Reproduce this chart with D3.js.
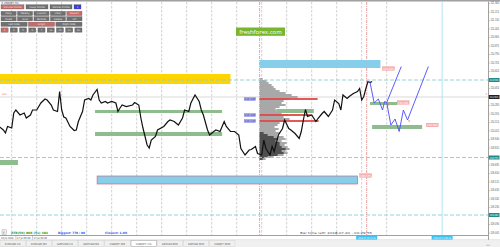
<!DOCTYPE html>
<html>
<head>
<meta charset="utf-8">
<script src="https://cdn.jsdelivr.net/npm/d3@7"></script>
<style>
body{margin:0;background:#fff;overflow:hidden}
svg{display:block;font-family:"DejaVu Sans",sans-serif}
</style>
</head>
<body>
<svg></svg>
<script>
// hours counted from 2018.07.16 23:00
var closeHours = [-3,-2,-1.5,-1,0,0.5,1,2,3,3.5,4.5,5,6,7,8,8.5,9.5,10,11,11.5,12,12.5,13,14,15,15.5,16,17,17.5,18.5,19,19.5,20.5,21,21.5,22.5,23,24,25,25.5,26,26.5,27.5,29,29.5,30.5,31,31.5,32.5,33,33.5,34.5,35,36.5,37.5,38,39,40,41,41.5,42.5,43,44,45,45.5,46,47,47.5,48.5,49,50,51,51.5,52.5,53.5,54.5,55,56,57,57.5,58.5,59,60,60.5,61,62,62.5,63,64,65,65.5,66.5,67,68,69,69.5,70,70.5,71,72,73,73.5,74.5,75,76,77,77.5,78.5,79,79.5,80.5,81,82,83,83.5,84,84.5,85,85.5,86,86.5];
var closePrices = [110.065,110.03,110.00,110.065,110.05,110.20,110.23,110.18,110.20,110.15,110.18,110.23,110.23,110.30,110.34,110.33,110.28,110.23,110.215,110.415,110.23,110.16,110.15,110.065,110.025,110.03,110.115,110.215,110.33,110.345,110.33,110.38,110.435,110.33,110.30,110.315,110.30,110.315,110.30,110.215,110.25,110.28,110.265,110.28,110.305,110.28,110.15,110.05,109.88,109.85,109.93,109.965,110.03,110.065,110.115,110.13,110.115,110.08,110.15,110.23,110.215,110.30,110.38,110.315,110.23,110.18,110.03,109.98,110.015,110.03,110.015,110.115,110.065,110.015,110.015,109.98,109.845,109.78,109.83,109.835,109.865,109.795,109.78,109.93,109.845,109.78,109.865,109.815,109.98,110.045,110.13,110.045,110.03,109.995,109.945,110.015,110.13,110.235,110.165,110.18,110.115,110.145,110.195,110.215,110.165,110.23,110.33,110.295,110.23,110.38,110.345,110.365,110.395,110.415,110.445,110.33,110.365,110.445,110.515,110.505,110.515];

// forecast paths
var projAHours = [85.5,86,87,88,89,89.5,90,93.5];
var projAPrices = [110.515,110.505,110.30,110.34,110.23,110.315,110.305,110.665];
var projBHours = [90,91,92,93,94,95,100];
var projBPrices = [110.305,110.08,110.14,110.015,110.23,110.13,110.665];

// zones: [from hour, to hour, top price, bottom price]
var yellowZones = [[-3,52.5,110.59,110.49]];
var blueZones = [[59.5,88.5,110.73,110.65],[20.5,83,109.57,109.49]];
var greenZones = [[20,50.5,110.23,110.20],[20,50.5,110.01,109.97],[-3,1.5,109.73,109.68],[63.5,72.5,110.24,110.20],[86,92.5,110.31,110.28],[86.5,98.5,110.08,110.04]];

var levelPrices = [110.53,109.755,109.18];
var bidPrice = 110.36;
var redTags = [[89,110.645],[92.5,110.305],[99.5,110.08],[83.5,109.575]];

// volume profile, from 110.54 down in 0.02 steps
var profileStartHour = 59.5;
var profileTop = 110.54, profileStep = 0.02;
var profileVolume = [3,7,9,12,14,16,20,26,32,38,30,24,22,26,20,16,17,22,28,24,30,27,20,18,15,19,16,20,18,24,26,22,27,25,28,30,26,28,24,14,6];
var profileRecent = [0,0,0,0,0,0,0,0,0,0,0,0,0,0,0,0,0,0,0,0,0,0,0,0,0,0,0,4,8,14,18,16,20,20,22,26,22,24,18,8,3];
var profileLevels = [[110.34,58],[110.18,51],[110.12,59]];

var priceTicks = [111.300,111.215,111.130,111.045,110.960,110.875,110.790,110.705,110.620,110.450,110.280,110.195,110.110,110.025,109.940,109.855,109.685,109.600,109.515,109.430,109.345,109.260,109.090,109.005];
var gridHours = [0,6,12,18,24,30,36,42,48,54,60,66,72,78,84,90];
var markHours = [85.2,103.3];

var panelRows = [
  [["Volume Profile","on"],["Vwap Profile","off"],["Market Profile","off"],["1","blue"]],
  [["Daily","off"],["Weekly","off"],["Custom","off"],["Clear","off"],["Session","on"]],
  [["Fixed","off"],["Auto","off"],["Periods","off"],["Delete","off"],["Off","off"]],
  [["Left Side","off"],["Origin","on"],["Right Side","off"]],
  [["1","on"],["4","off"],["5","off"],["6","off"],["7","off"],["10","off"],["15","off"],["20","off"],["30","off"]]
];
var tabNames = ["EURUSD,H1","EURUSD,M1","GBPUSD,H1","GBPUSD,M1","USDJPY,M1","USDJPY,H1","GBPUSD,M30","GBPUSD,M30","USDJPY,M30"];
var activeTab = 5;

var width = 500, height = 247;
var plotRight = 488, plotTop = 2, plotBottom = 235;

var origin = new Date(2018, 6, 16, 23, 0);
function t(h){ return new Date(origin.getTime() + h * 3600e3); }

var x = d3.scaleTime().domain([t(0), t(6)]).range([11.7, 36.7]);
var y = d3.scaleLinear().domain([bidPrice, bidPrice + 1]).range([97, -3]);
var vx = d3.scaleLinear().domain([0, 40]).range([0, 40]);

var svg = d3.select("svg").attr("width", width).attr("height", height);

svg.append("defs").append("clipPath").attr("id","plot")
  .append("rect").attr("x",0).attr("y",plotTop).attr("width",plotRight).attr("height",plotBottom-plotTop);

svg.append("rect").attr("width",width).attr("height",height).attr("fill","#fff");
svg.append("line").attr("x1",0).attr("x2",width).attr("y1",0.8).attr("y2",0.8)
  .attr("stroke","#a0a0a0").attr("stroke-width",1.6);

var plot = svg.append("g").attr("clip-path","url(#plot)");

// grid
plot.selectAll(".grid").data(gridHours).enter().append("line")
  .attr("x1", d => x(t(d))).attr("x2", d => x(t(d)))
  .attr("y1", plotTop).attr("y2", plotBottom)
  .attr("stroke","#c4c4c4").attr("stroke-width",0.8).attr("stroke-dasharray","2.5,1.5");

// bid line
plot.append("line").attr("x1",0).attr("x2",plotRight).attr("y1",y(bidPrice)).attr("y2",y(bidPrice))
  .attr("stroke","#cfcfcf").attr("stroke-width",0.8);

// vertical markers
plot.append("line").attr("x1",x(t(profileStartHour))).attr("x2",x(t(profileStartHour)))
  .attr("y1",plotTop).attr("y2",plotBottom).attr("stroke","#e08a8a").attr("stroke-width",0.8)
  .attr("stroke-dasharray","3,1,1,1");
plot.append("line").attr("x1",x(t(markHours[0]))).attr("x2",x(t(markHours[0])))
  .attr("y1",plotTop).attr("y2",plotBottom).attr("stroke","#e08a8a").attr("stroke-width",0.8)
  .attr("stroke-dasharray","3,1,1,1");
plot.append("line").attr("x1",x(t(markHours[1]))).attr("x2",x(t(markHours[1])))
  .attr("y1",plotTop).attr("y2",plotBottom).attr("stroke","#9fe0f0").attr("stroke-width",0.8);

function zone(list, fill, stroke){
  plot.selectAll(null).data(list).enter().append("rect")
    .attr("x", d => x(t(d[0]))).attr("width", d => x(t(d[1])) - x(t(d[0])))
    .attr("y", d => y(d[2])).attr("height", d => y(d[3]) - y(d[2]))
    .attr("fill", fill).attr("stroke", stroke || "none").attr("stroke-width", 0.7);
}
zone(yellowZones, "#ffd400");
zone(blueZones.slice(0,1), "#87ceeb");
zone(blueZones.slice(1), "#87ceeb", "#c07080");
zone(greenZones, "#8fbc8f");

// volume profile
var px0 = x(t(profileStartHour));
plot.selectAll(".vp").data(profileVolume).enter().append("rect")
  .attr("x", px0).attr("y", (d,i) => y(profileTop - i*profileStep) - 1)
  .attr("width", d => vx(d)).attr("height", 2).attr("fill","#a8a8a8");
plot.selectAll(".vpr").data(profileRecent).enter().append("rect")
  .attr("x", px0).attr("y", (d,i) => y(profileTop - i*profileStep) - 0.7)
  .attr("width", d => vx(d)).attr("height", 1.4).attr("fill","#2a2a2a");
plot.selectAll(".vpl").data(profileLevels).enter().append("rect")
  .attr("x", px0).attr("y", d => y(d[0]) - 0.9)
  .attr("width", d => vx(d[1])).attr("height", 1.8).attr("fill","#e04848");

// cyan levels
plot.selectAll(".lvl").data(levelPrices).enter().append("line")
  .attr("x1",0).attr("x2",plotRight).attr("y1", d => y(d)).attr("y2", d => y(d))
  .attr("stroke","#8ccfcf").attr("stroke-width",0.9).attr("stroke-dasharray","4,2");

// price
var line = d3.line().x(d => x(t(d[0]))).y(d => y(d[1]));
plot.append("path").attr("d", line(d3.zip(closeHours, closePrices)))
  .attr("fill","none").attr("stroke","#111").attr("stroke-width",1.2).attr("stroke-linejoin","miter");

// forecast
[[projAHours, projAPrices],[projBHours, projBPrices]].forEach(function(p){
  plot.append("path").attr("d", line(d3.zip(p[0], p[1])))
    .attr("fill","none").attr("stroke","#4a4aff").attr("stroke-width",0.9);
});
plot.append("text").attr("x", x(t(90.2))).attr("y", y(110.27)).text("B")
  .attr("font-size",2.8).attr("fill","#f07070");
plot.append("text").attr("x", x(t(95.2))).attr("y", y(110.11)).text("B")
  .attr("font-size",2.8).attr("fill","#f07070");

// tags
var tg = plot.selectAll(".rt").data(redTags).enter().append("g")
  .attr("transform", d => "translate(" + x(t(d[0])) + "," + y(d[1]) + ")");
tg.append("rect").attr("x",0).attr("y",-1.8).attr("width",12).attr("height",3.6)
  .attr("fill","#f7b0b0").attr("stroke","#e88").attr("stroke-width",0.3);
tg.append("text").attr("x",6).attr("y",1.1).attr("text-anchor","middle").attr("font-size",2.6)
  .attr("fill","#fff").text(d => d[1].toFixed(3));

var bg = plot.selectAll(".bt").data(profileLevels).enter().append("g")
  .attr("transform", d => "translate(" + (px0 - 15.5) + "," + y(d[0]) + ")");
bg.append("rect").attr("x",0).attr("y",-1.7).attr("width",11.5).attr("height",3.4)
  .attr("fill","#aab2f2").attr("stroke","#6c78e0").attr("stroke-width",0.3);
bg.append("text").attr("x",5.75).attr("y",1.1).attr("text-anchor","middle").attr("font-size",2.6)
  .attr("fill","#2a2aa0").text(d => d[0].toFixed(3));

plot.append("text").attr("x",2).attr("y",y(110.38)).text("ask").attr("font-size",2.8).attr("fill","#f08080");
svg.append("text").attr("x",485.5).attr("y",y(110.38)).text("2").attr("font-size",2.8).attr("fill","#f08080");

// watermark label
var wm = svg.append("g").attr("transform","translate(236,27.5)");
wm.append("rect").attr("width",49).attr("height",8.3).attr("fill","#7ab52f");
wm.append("text").attr("x",24.5).attr("y",6.1).attr("text-anchor","middle").attr("font-size",6)
  .attr("fill","#fff").attr("font-family","Open Sans, sans-serif").text("freshforex.com");

// right axis
svg.append("line").attr("x1",plotRight+0.5).attr("x2",plotRight+0.5).attr("y1",1.5).attr("y2",plotBottom+5)
  .attr("stroke","#888").attr("stroke-width",0.8);
var yAxis = d3.axisRight(y).tickValues(priceTicks).tickSize(1.5).tickFormat(d3.format(".3f"));
var ya = svg.append("g").attr("transform","translate(" + (plotRight+0.5) + ",0)").call(yAxis);
ya.select(".domain").remove();
ya.selectAll("line").attr("stroke","#999").attr("stroke-width",0.5);
ya.selectAll("text").attr("font-size",2.8).attr("fill","#555").attr("x",2).attr("dy","0.32em")
  .attr("textLength",8.5).attr("lengthAdjust","spacingAndGlyphs");

function badge(price, fill){
  var g = svg.append("g").attr("transform","translate(" + (plotRight+0.8) + "," + y(price) + ")");
  g.append("rect").attr("x",0).attr("y",-2).attr("width",10.7).attr("height",4).attr("fill",fill);
  g.append("text").attr("x",1).attr("y",1.1).attr("font-size",2.8).attr("fill","#fff")
    .attr("textLength",8.4).attr("lengthAdjust","spacingAndGlyphs").text(price.toFixed(3));
}
levelPrices.forEach(p => badge(p, "#1d8c8c"));
badge(bidPrice, "#222");

// bottom time axis
svg.append("line").attr("x1",0).attr("x2",plotRight).attr("y1",plotBottom+0.5).attr("y2",plotBottom+0.5)
  .attr("stroke","#888").attr("stroke-width",0.8);
svg.append("line").attr("x1",0).attr("x2",width).attr("y1",plotBottom+5).attr("y2",plotBottom+5)
  .attr("stroke","#bbb").attr("stroke-width",0.6);
var timeTicks = x.ticks(d3.timeHour.every(4)).filter(d => x(d) > 5 && x(d) < 385);
var fmt = d3.timeFormat("%d %b %H:%M");
svg.append("text").attr("x",1).attr("y",plotBottom+3.6).attr("font-size",2.6).attr("fill","#444")
  .attr("textLength",12.5).attr("lengthAdjust","spacingAndGlyphs").text("16 Jul 2018");
var tt = svg.selectAll(".tt").data(timeTicks).enter().append("g")
  .attr("transform", d => "translate(" + x(d) + "," + plotBottom + ")");
tt.append("line").attr("y1",0.5).attr("y2",4.5).attr("stroke","#999").attr("stroke-width",0.5);
tt.append("text").attr("x",1).attr("y",3.6).attr("font-size",2.6).attr("fill","#444")
  .attr("textLength",13.5).attr("lengthAdjust","spacingAndGlyphs").text(d => fmt(d));
markHours.forEach(function(h){
  var g = svg.append("g").attr("transform","translate(" + x(t(h)) + "," + plotBottom + ")");
  g.append("rect").attr("x",-10.5).attr("y",0.8).attr("width",21).attr("height",3.8).attr("fill","#3cc0f0");
  g.append("text").attr("x",0).attr("y",3.6).attr("text-anchor","middle").attr("font-size",2.6)
    .attr("fill","#fff").attr("textLength",18).attr("lengthAdjust","spacingAndGlyphs")
    .text(d3.timeFormat("%Y.%m.%d %H:%M")(t(h)));
});

// info line
svg.append("rect").attr("x",2).attr("y",229.8).attr("width",4.5).attr("height",4.5)
  .attr("fill","#eee").attr("stroke","#999").attr("stroke-width",0.4);
svg.append("text").attr("x",3).attr("y",233.5).attr("font-size",3).attr("fill","#555").text("F");
svg.append("text").attr("x",11).attr("y",234).attr("font-size",3).attr("font-weight","bold").attr("fill","#2e9a2e")
  .attr("textLength",37).attr("lengthAdjust","spacingAndGlyphs").text("ATR(50) 866 (5s) 482");
svg.append("text").attr("x",58).attr("y",234).attr("font-size",3).attr("font-weight","bold").attr("fill","#2a5cf0")
  .attr("textLength",27).attr("lengthAdjust","spacingAndGlyphs").text("Biggest: 778 / 88");
svg.append("text").attr("x",105).attr("y",234).attr("font-size",3).attr("font-weight","bold").attr("fill","#2a5cf0")
  .attr("textLength",22).attr("lengthAdjust","spacingAndGlyphs").text("Closest: 1.00");
svg.append("text").attr("x",300).attr("y",234).attr("font-size",2.8).attr("fill","#444")
  .attr("textLength",72).attr("lengthAdjust","spacingAndGlyphs").text("Bar time left: 2018.07.20 - 00:29:55");

// tabs
svg.append("rect").attr("x",0).attr("y",240.3).attr("width",width).attr("height",6.7).attr("fill","#f0f0f0");
var tabs = svg.selectAll(".tab").data(tabNames).enter().append("g")
  .attr("transform", (d,i) => "translate(" + (i*26.2) + ",240.6)");
tabs.append("rect").attr("width",25.4).attr("height",5.6)
  .attr("fill", (d,i) => i === activeTab ? "#fff" : "#f0f0f0")
  .attr("stroke", (d,i) => i === activeTab ? "#888" : "#ccc").attr("stroke-width",0.4);
tabs.append("text").attr("x",12.7).attr("y",4).attr("text-anchor","middle").attr("font-size",2.6)
  .attr("fill","#555").attr("textLength",16).attr("lengthAdjust","spacingAndGlyphs").text(d => d);
svg.append("text").attr("x",486).attr("y",245.5).attr("font-size",3).attr("fill","#aaa").text("◂ ▸");

// button panel
svg.append("text").attr("x",1.5).attr("y",3.8).attr("font-size",2.8).attr("fill","#333").text("▾ USDJPY,H1");
var rowY = [4.7, 11.3, 16.6, 22.1, 27.9];
var colors = {off:"#707070", on:"#c96a6a", blue:"#3c3cdc"};
panelRows.forEach(function(row, r){
  var widths;
  if (r === 0) widths = [23, 22, 22, 7];
  else { var gap = r === 4 ? 2.1 : 1.3; var w = (81 - gap*(row.length-1)) / row.length; widths = row.map(() => w); }
  var gapR = r === 0 ? 2 : (r === 4 ? 2.1 : 1.3);
  var cx = 1;
  row.forEach(function(b, i){
    var g = svg.append("g").attr("transform","translate(" + cx + "," + rowY[r] + ")");
    g.append("rect").attr("width",widths[i]).attr("height",4.3).attr("fill",colors[b[1]])
      .attr("stroke","#555").attr("stroke-width",0.3);
    g.append("text").attr("x",widths[i]/2).attr("y",3.1).attr("text-anchor","middle").attr("font-size",2.5)
      .attr("fill","#e8e8e8").text(b[0]);
    cx += widths[i] + gapR;
  });
});
</script>
</body>
</html>
